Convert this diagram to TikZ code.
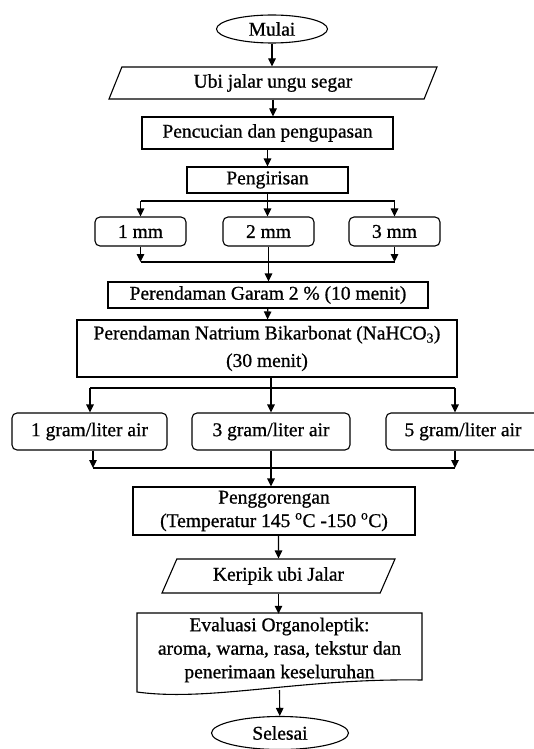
\documentclass[tikz,border=0pt]{standalone}
\usepackage{fontspec}
\setmainfont{Liberation Serif}[FakeBold=0.8]
\usetikzlibrary{arrows.meta}
\usetikzlibrary{shapes}

\begin{document}
\begin{tikzpicture}[x=1pt, y=-1pt, line width=1.1pt,
    font=\fontsize{19.5}{23.5}\selectfont,
    >={Triangle[length=8pt,width=7.5pt]},
    proses/.style={draw, rectangle, inner sep=0pt, align=center},
    pilihan/.style={draw, rounded corners=5pt, inner sep=0pt},
    terminal/.style={draw, ellipse, inner sep=0pt},
    masukan/.style={draw, trapezium, trapezium left angle=54, trapezium right angle=126,
        trapezium stretches body, inner sep=0pt}]
    \useasboundingbox (0,0) rectangle (533,749);

    \node[terminal, minimum width=111pt, minimum height=28pt] (Mulai) at (272,29) {Mulai};
    \node[masukan, minimum width=328pt, minimum height=32pt] (Ubi) at (273,83) {Ubi jalar ungu segar};
    \node[proses, minimum width=251pt, minimum height=32pt] (Cuci) at (267.5,133) {Pencucian dan pengupasan};
    \node[proses, minimum width=161pt, minimum height=26pt] (Iris) at (267.5,180) {Pengirisan};

    \node[pilihan, minimum width=91pt, minimum height=29pt] (mm1) at (140.5,231.5) {1 mm};
    \node[pilihan, minimum width=91pt, minimum height=29pt] (mm2) at (268.5,231.5) {2 mm};
    \node[pilihan, minimum width=91pt, minimum height=29pt] (mm3) at (394.5,231.5) {3 mm};

    \node[proses, minimum width=320pt, minimum height=26pt] (Garam) at (268,295) {Perendaman Garam 2 \% (10 menit)};
    \node[proses, minimum width=380pt, minimum height=57pt] (Soda) at (267,348.5)
        {Perendaman Natrium Bikarbonat (NaHCO\textsubscript{3})\\[4pt](30 menit)};

    \node[pilihan, minimum width=155pt, minimum height=37pt] (g1) at (89.5,431.5) {1 gram/liter air};
    \node[pilihan, minimum width=158pt, minimum height=37pt] (g3) at (271,431.5) {3 gram/liter air};
    \node[pilihan, minimum width=154pt, minimum height=37pt] (g5) at (463,431.5) {5 gram/liter air};

    \node[proses, minimum width=282pt, minimum height=48pt] (Goreng) at (274,511)
        {Penggorengan\\(Temperatur 145 \textsuperscript{o}C -150 \textsuperscript{o}C)};
    \node[masukan, minimum width=233pt, minimum height=34pt,
        trapezium left angle=50, trapezium right angle=130] (Keripik) at (278.5,576) {Keripik ubi Jalar};

    % dokumen evaluasi
    \draw (137,613) -- (422,613) -- (422,680) .. controls (300,678) and (210,702) .. (137,692) -- cycle;
    \node[align=center] (Eval) at (279.5,650) {Evaluasi Organoleptik:\\aroma, warna, rasa, tekstur dan\\penerimaan keseluruhan};

    \node[terminal, minimum width=137pt, minimum height=33pt] (Selesai) at (280,733) {Selesai};

    \draw[->] (Mulai.south) -- (Mulai.south |- Ubi.north);
    \draw[->] (Ubi.south) -- (Ubi.south |- Cuci.north);
    \draw[->] (Cuci) -- (Iris);

    % cabang ketebalan
    \coordinate (c1) at (140.5,201);
    \coordinate (c3) at (394.5,201);
    \draw (c1) -- (c3);
    \draw[->] (c1) -- (mm1);
    \draw[->] (c3) -- (mm3);
    \draw[->] (Iris.south) -- (Iris.south |- mm2.north);
    \coordinate (d1) at (140.5,262);
    \coordinate (d3) at (394.5,262);
    \draw (d1) -- (d3);
    \draw[->] (mm1) -- (d1);
    \draw[->] (mm3) -- (d3);
    \draw[->] (mm2.south) -- (mm2.south |- Garam.north);
    \draw[->] (Garam) -- (Soda);

    % cabang konsentrasi
    \coordinate (e1) at (90,388);
    \coordinate (e3) at (455,388);
    \draw (e1) -- (e3);
    \draw[->] (e1) -- (e1 |- g1.north);
    \draw[->] (Soda.south -| g3) -- (g3);
    \draw[->] (e3) -- (e3 |- g5.north);
    \coordinate (f1) at (93,468);
    \coordinate (f3) at (455,468);
    \draw (f1) -- (f3);
    \draw[->] (g1.south -| f1) -- (f1);
    \draw[->] (g5.south -| f3) -- (f3);
    \draw[->] (g3.south) -- (g3.south |- Goreng.north);

    \draw[->] (Goreng.south -| Keripik) -- (Keripik);
    \draw[->] (Keripik.south) -- (Keripik.south |- Eval.north);
    \coordinate (Ekor) at (279.5,690);
    \draw[->] (Ekor) -- (Selesai);
\end{tikzpicture}
\end{document}
